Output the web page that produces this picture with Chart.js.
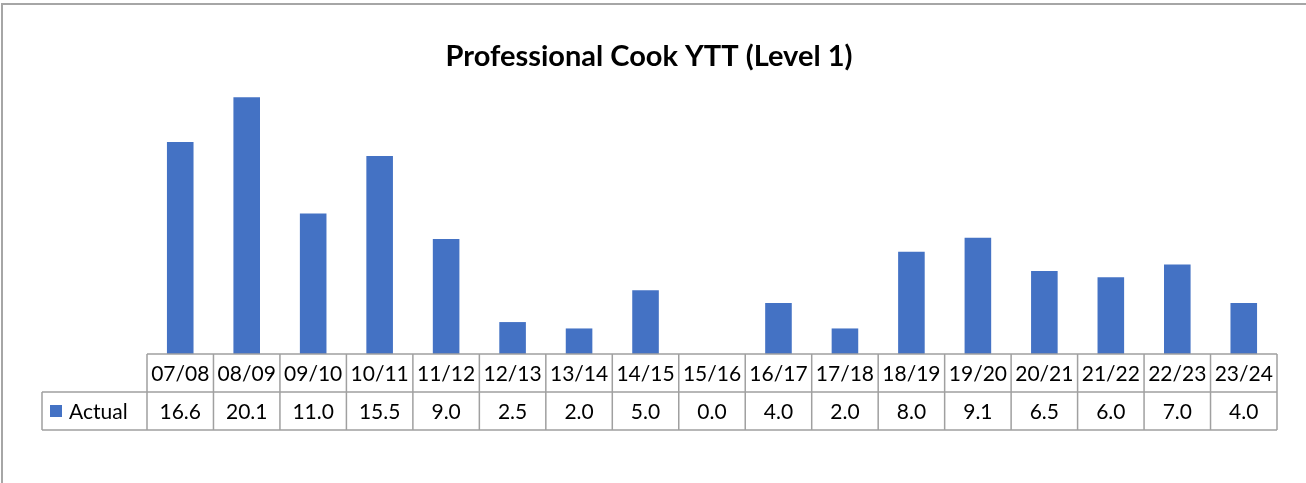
<!DOCTYPE html>
<html>
<head>
<meta charset="utf-8">
<script src="https://cdn.jsdelivr.net/npm/chart.js@4"></script>
<style>
  html, body { margin: 0; padding: 0; background: #fff; }
  #wrap { position: relative; width: 1306px; height: 483px; overflow: hidden; }
  #frame { position: absolute; left: 1px; top: 3px; width: 1400px; height: 600px;
           border: 2px solid #a6a6a6; box-sizing: border-box; }
  canvas { position: absolute; left: 0; top: 0; }
</style>
</head>
<body>
<div id="wrap">
  <div id="frame"></div>
  <canvas id="grafica" width="1306" height="483"></canvas>
</div>
<script>
// Datos
const categorias = ["07/08", "08/09", "09/10", "10/11", "11/12", "12/13", "13/14", "14/15",
  "15/16", "16/17", "17/18", "18/19", "19/20", "20/21", "21/22", "22/23", "23/24"];
const valoresActual = [16.6, 20.1, 11.0, 15.5, 9.0, 2.5, 2.0, 5.0, 0.0, 4.0, 2.0, 8.0, 9.1, 6.5, 6.0, 7.0, 4.0];
const etiquetasTabla = ["16.6", "20.1", "11.0", "15.5", "9.0", "2.5", "2.0", "5.0", "0.0",
  "4.0", "2.0", "8.0", "9.1", "6.5", "6.0", "7.0", "4.0"];
const nombreSerie = "Actual";
const titulo = "Professional Cook YTT (Level 1)";

const FUENTE = "Lato, 'Open Sans', sans-serif";
const AZUL = "#4472c4";
const LINEA = "#a0a0a0";

// Título centrado sobre todo el lienzo (no sólo el área de gráfico)
const tituloCentrado = {
  id: "tituloCentrado",
  afterDraw(chart) {
    const ctx = chart.ctx;
    ctx.save();
    ctx.fillStyle = "#000";
    ctx.font = "bold 29px " + FUENTE;
    ctx.textAlign = "center";
    ctx.textBaseline = "alphabetic";
    ctx.fillText(titulo, chart.width / 2 - 4, 66);
    ctx.restore();
  }
};

// Tabla de datos estilo Excel debajo del área de gráfico
const tablaDatos = {
  id: "tablaDatos",
  afterDraw(chart) {
    const ctx = chart.ctx;
    const x = chart.scales.x;
    const area = chart.chartArea;
    const fila = 38;
    const y0 = area.bottom, y1 = y0 + fila, y2 = y1 + fila;
    const izq = area.left, der = area.right, leyendaIzq = 42;
    const paso = (der - izq) / categorias.length;

    ctx.save();
    ctx.strokeStyle = LINEA;
    ctx.lineWidth = 1.5;
    ctx.beginPath();
    ctx.moveTo(izq, y0); ctx.lineTo(der, y0);
    ctx.moveTo(leyendaIzq, y1); ctx.lineTo(der, y1);
    ctx.moveTo(leyendaIzq, y2); ctx.lineTo(der, y2);
    ctx.moveTo(leyendaIzq, y1); ctx.lineTo(leyendaIzq, y2);
    for (let i = 0; i <= categorias.length; i++) {
      const xx = izq + i * paso;
      ctx.moveTo(xx, y0); ctx.lineTo(xx, y2);
    }
    ctx.stroke();

    ctx.fillStyle = "#000";
    ctx.font = "21px " + FUENTE;
    ctx.textAlign = "center";
    ctx.textBaseline = "middle";
    categorias.forEach((c, i) => {
      const cx = x.getPixelForValue(i);
      ctx.fillText(c, cx, (y0 + y1) / 2 + 1);
      ctx.fillText(etiquetasTabla[i], cx, (y1 + y2) / 2 + 1);
    });

    // clave de leyenda
    ctx.fillStyle = AZUL;
    ctx.fillRect(50, (y1 + y2) / 2 - 6, 12, 12);
    ctx.fillStyle = "#000";
    ctx.textAlign = "left";
    ctx.fillText(nombreSerie, 69, (y1 + y2) / 2 + 1);
    ctx.restore();
  }
};

new Chart(document.getElementById("grafica"), {
  type: "bar",
  data: {
    labels: categorias,
    datasets: [{
      label: nombreSerie,
      data: valoresActual,
      backgroundColor: AZUL,
      categoryPercentage: 1,
      barPercentage: 0.4
    }]
  },
  options: {
    responsive: false,
    animation: false,
    layout: { padding: { left: 147, right: 29, top: 73, bottom: 129 } },
    scales: {
      x: { display: false },
      y: { display: false, min: 0, max: 22 }
    },
    plugins: {
      legend: { display: false },
      tooltip: { enabled: false },
      title: { display: false }
    }
  },
  plugins: [tablaDatos, tituloCentrado]
});
</script>
</body>
</html>
